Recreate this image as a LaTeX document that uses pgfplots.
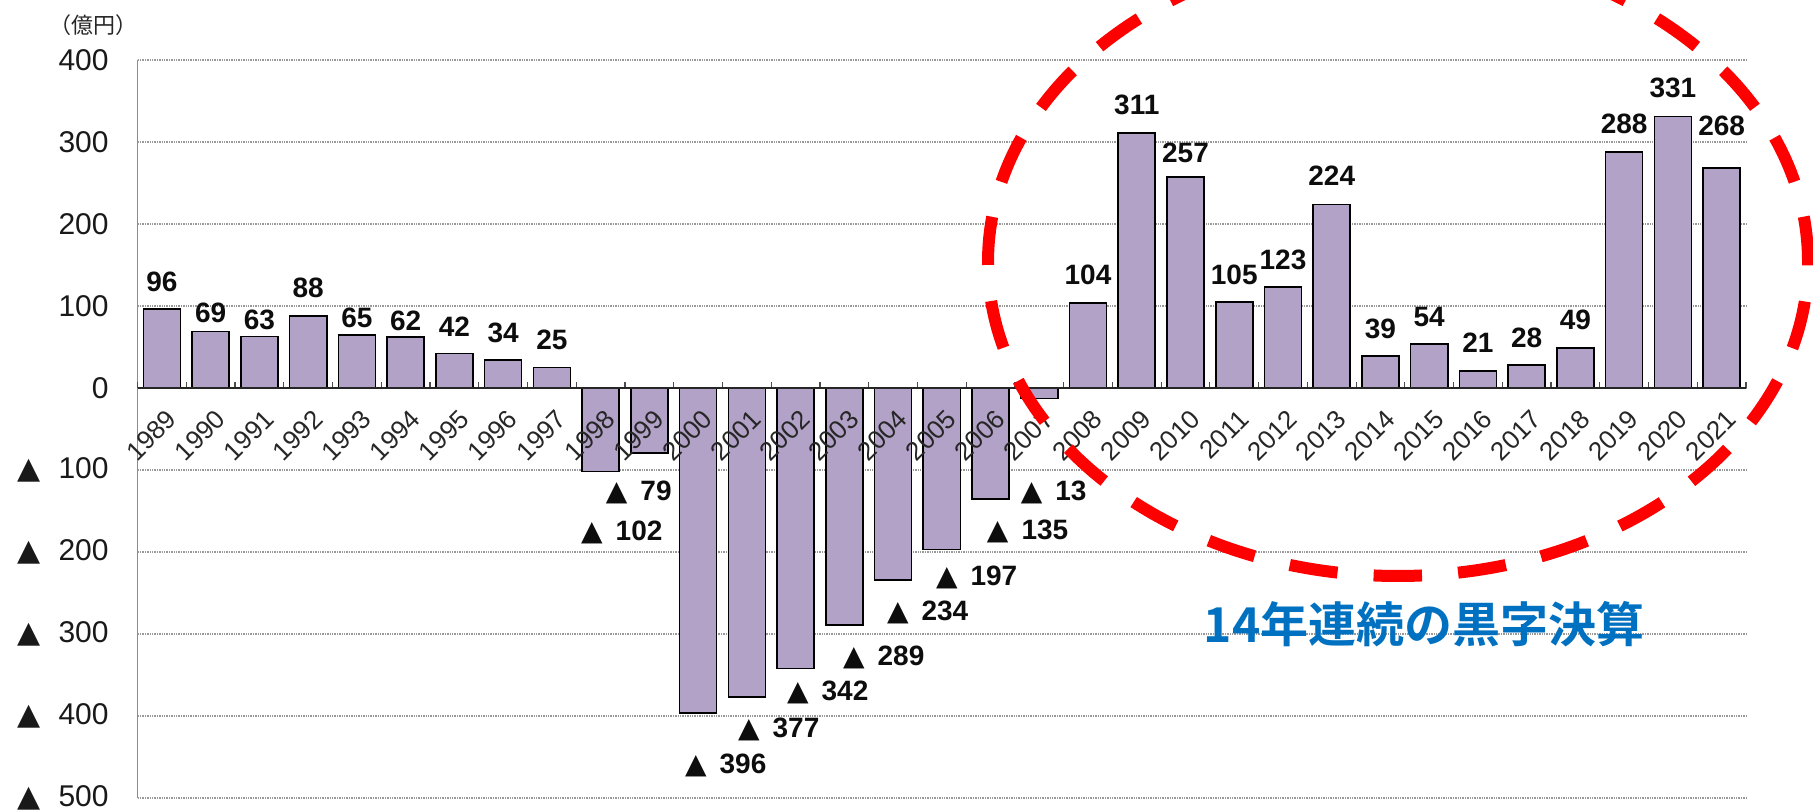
\documentclass[border=0pt]{standalone}
\usepackage{pgfplots}
\pgfplotsset{compat=1.18}
\usepackage{fontspec}
\setmainfont{Liberation Sans}
\newfontfamily\cjk{Noto Sans CJK JP}
\newfontfamily\cjkb{Noto Sans CJK JP Bold}
\newfontfamily\sym{DejaVu Sans}
\definecolor{barc}{RGB}{178,162,199}
\definecolor{bluet}{RGB}{0,112,192}
\newcommand{\tri}{{\sym ▲}}
\tikzset{lab/.style={font=\bfseries\fontsize{14}{14}\selectfont, inner sep=0pt, anchor=center, text=black!95}}
\pgfplotsset{
  common/.style={
    at={(68.8pt,7pt)}, anchor=south west,
    scale only axis, width=804.2pt, height=369pt,
    xmin=-0.5, xmax=32.5, ymin=-500, ymax=400,
    clip=false,
    xtick={0,...,32},
    minor xtick={-0.5,0.5,...,32.5},
    major tick length=0pt, minor tick length=3pt, tick align=inside,
    minor tick style={black!70, line width=0.6pt},
    x axis line style={black!85, line width=1pt},
  },
}
\begin{document}
\begin{tikzpicture}[x=1pt,y=1pt]
\useasboundingbox (0,0) rectangle (906.5,406);
\begin{axis}[
  common,
  axis x line*=middle, axis y line*=left,
  y axis line style={black!45, line width=0.8pt},
  xmajorticks=false,
  ytick={-500,-400,-300,-200,-100,0,100,200,300,400},
  yticklabels={\tri\hspace{9pt}500,\tri\hspace{9pt}400,\tri\hspace{9pt}300,\tri\hspace{9pt}200,\tri\hspace{9pt}100,0,100,200,300,400},
  yticklabel style={font=\fontsize{15}{15}\selectfont, text=black!90, inner sep=0pt, anchor=east, xshift=-14.3pt},
  ymajorgrids,
  major grid style={black!40, line width=0.7pt, dash pattern=on 0.7pt off 0.5pt},
]
\addplot[ybar, bar width=0.76, fill=barc, draw=black, line width=0.8pt] coordinates {
(0,96) (1,69) (2,63) (3,88) (4,65) (5,62) (6,42) (7,34) (8,25)
(9,-102) (10,-79) (11,-396) (12,-377) (13,-342) (14,-289) (15,-234) (16,-197) (17,-135) (18,-13)
(19,104) (20,311) (21,257) (22,105) (23,123) (24,224) (25,39) (26,54) (27,21) (28,28) (29,49)
(30,288) (31,331) (32,268)
};
\node[lab] at (axis cs:0,129.3) {96};
\node[lab] at (axis cs:1,91.5) {69};
\node[lab] at (axis cs:2,82.9) {63};
\node[lab] at (axis cs:3,122) {88};
\node[lab] at (axis cs:4,85.4) {65};
\node[lab] at (axis cs:5,81.7) {62};
\node[lab] at (axis cs:6,74.4) {42};
\node[lab] at (axis cs:7,67.1) {34};
\node[lab] at (axis cs:8,58.5) {25};
\node[lab] at (axis cs:19,137.8) {104};
\node[lab] at (axis cs:20,345.1) {311};
\node[lab] at (axis cs:21,286.6) {257};
\node[lab] at (axis cs:22,137.8) {105};
\node[lab] at (axis cs:23,156.1) {123};
\node[lab] at (axis cs:24,258.5) {224};
\node[lab] at (axis cs:25,72) {39};
\node[lab] at (axis cs:26,86.6) {54};
\node[lab] at (axis cs:27,54.9) {21};
\node[lab] at (axis cs:28,61) {28};
\node[lab] at (axis cs:29,82.9) {49};
\node[lab] at (axis cs:30,322) {288};
\node[lab] at (axis cs:31,365.9) {331};
\node[lab] at (axis cs:32,319.5) {268};
\node[lab] at (axis cs:9.434,-175.6) {\tri\hspace{6.5pt}102};
\node[lab] at (axis cs:9.783,-127.7) {\tri\hspace{6.5pt}79};
\node[lab] at (axis cs:11.567,-460.6) {\tri\hspace{6.5pt}396};
\node[lab] at (axis cs:12.654,-415.9) {\tri\hspace{6.5pt}377};
\node[lab] at (axis cs:13.659,-370.7) {\tri\hspace{6.5pt}342};
\node[lab] at (axis cs:14.808,-328) {\tri\hspace{6.5pt}289};
\node[lab] at (axis cs:15.71,-273.2) {\tri\hspace{6.5pt}234};
\node[lab] at (axis cs:16.715,-230.5) {\tri\hspace{6.5pt}197};
\node[lab] at (axis cs:17.76,-174.4) {\tri\hspace{6.5pt}135};
\node[lab] at (axis cs:18.295,-126.8) {\tri\hspace{6.5pt}13};
\end{axis}
\begin{axis}[
  common,
  axis x line*=middle, axis y line=none,
  xticklabels={1989,1990,1991,1992,1993,1994,1995,1996,1997,1998,1999,2000,2001,2002,2003,2004,2005,2006,2007,2008,2009,2010,2011,2012,2013,2014,2015,2016,2017,2018,2019,2020,2021},
  xticklabel style={font=\fontsize{13}{13}\selectfont, text=black!85, inner sep=0pt, xshift=5pt, yshift=-13.3pt, rotate=45, anchor=east},
  ytick=\empty,
]
\addplot[draw=none, mark=none] coordinates {(0,0) (32,0)};
\end{axis}
\node[font=\cjkb\fontsize{24}{24}\selectfont, text=bluet, inner sep=0pt] at (712,94) {14年連続の黒字決算};
\node[font=\cjk\fontsize{11}{11}\selectfont, text=black!85, inner sep=0pt] at (46.5,393.5) {（億円）};
\draw[red, line width=6pt, dash pattern=on 24.2pt off 18.1pt, dash phase=1.4pt] (699,275) ellipse [x radius=205, y radius=157];
\end{tikzpicture}
\end{document}
